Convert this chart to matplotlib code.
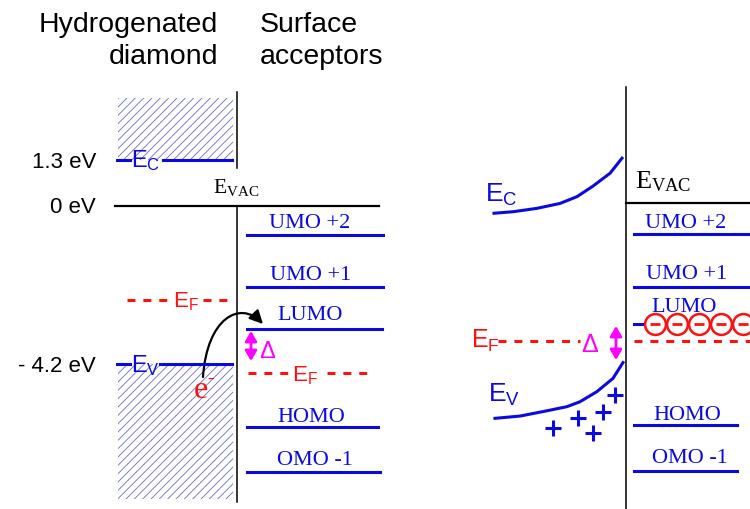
import matplotlib
matplotlib.use('Agg')
import matplotlib.pyplot as plt
from matplotlib.patches import Rectangle, FancyArrowPatch
from matplotlib.path import Path

# energies in eV (0 eV = vacuum level of diamond)
tick_energies = [1.2, 0.0, -4.2]
tick_labels = ['1.3 eV', '0 eV', '- 4.2 eV']

diamond_ec = 1.2
diamond_ef = -2.5
diamond_ev = -4.2
cb_top = 2.86        # top of hatched conduction band
vb_bottom = -7.78    # bottom of hatched valence band

acc_names = ['UMO +2', 'UMO +1', 'LUMO', 'HOMO', 'OMO -1']
acc_left = [-0.78, -2.16, -3.28, -5.87, -7.06]
acc_left_ef = -4.43

acc_right = [-0.75, -2.16, -3.14, -5.82, -7.03]
acc_right_ef = -3.59
vac_right = 0.07

# band bending after charge transfer
ec_x = [494, 513, 537, 560, 577, 593, 610, 622]
ec_bend = [-0.20, -0.16, -0.07, 0.06, 0.24, 0.52, 0.86, 1.26]
ev_x = [495, 520, 547, 567, 580, 597, 613, 623]
ev_bend = [-5.64, -5.58, -5.44, -5.33, -5.20, -4.93, -4.58, -4.16]
holes_x = [553, 578, 593, 603, 615]
holes_e = [-5.90, -5.63, -6.03, -5.47, -5.02]
electrons_x = [655, 677, 699, 721, 743]

BLUE = '#0a0ae0'
RED = '#ff1010'
MAG = '#ff00ff'
SANS = 'Liberation Sans'
SERIF = 'Liberation Serif'

# pixel <-> eV mapping of the drawing
S = 37.7
Y0 = 205.7
def ey(ypix):
    return (Y0 - ypix) / S

plt.rcParams['hatch.linewidth'] = 0.6

fig = plt.figure(figsize=(7.5, 5.09), dpi=100)
ax = fig.add_axes([0, 0, 1, 1])
ax.set_xlim(0, 750)
ax.set_ylim(ey(509), ey(0))
ax.axis('off')

# titles
ax.text(218, ey(32), 'Hydrogenated', ha='right', va='baseline', fontsize=20.5, family=SANS)
ax.text(218, ey(64), 'diamond', ha='right', va='baseline', fontsize=20.5, family=SANS)
ax.text(260, ey(32), 'Surface', ha='left', va='baseline', fontsize=20.5, family=SANS)
ax.text(260, ey(64), 'acceptors', ha='left', va='baseline', fontsize=20.5, family=SANS)

# energy axis labels
for e, lab in zip(tick_energies, tick_labels):
    ax.text(96, e - 7.5 / S, lab, ha='right', va='baseline', fontsize=16, family=SANS)

# ---- left sketch ----
ax.add_patch(Rectangle((118, diamond_ec), 115, cb_top - diamond_ec, fill=False,
                       hatch='////', edgecolor='#6a6ad8', lw=0))
ax.add_patch(Rectangle((118, vb_bottom), 115, diamond_ev - vb_bottom, fill=False,
                       hatch='////', edgecolor='#6a6ad8', lw=0))

ax.plot([237, 237], [ey(92), ey(168)], color='black', lw=1.1)
ax.plot([237, 237], [0, ey(502)], color='black', lw=1.1)
ax.plot([115, 379], [0, 0], color='black', lw=1.6)
ax.text(213, ey(193), r'$\mathregular{E_{VAC}}$', fontsize=15.5, family=SERIF, va='baseline')

ax.plot([117, 130], [diamond_ec] * 2, color=BLUE, lw=2.2)
ax.plot([163, 232], [diamond_ec] * 2, color=BLUE, lw=2.2)
ax.text(131, ey(167), r'$\mathregular{E_C}$', color=BLUE, fontsize=17, family=SANS, va='baseline')
ax.plot([117, 130], [diamond_ev] * 2, color=BLUE, lw=2.2)
ax.plot([160, 232], [diamond_ev] * 2, color=BLUE, lw=2.2)
ax.text(131, ey(372), r'$\mathregular{E_V}$', color=BLUE, fontsize=17, family=SANS, va='baseline')

ax.plot([127, 172], [diamond_ef] * 2, color=RED, lw=2.2, ls=(0, (2.6, 2.6)))
ax.plot([203, 232], [diamond_ef] * 2, color=RED, lw=2.2, ls=(0, (2.6, 2.6)))
ax.text(173, ey(307), r'$\mathregular{E_F}$', color=RED, fontsize=16, family=SANS, va='baseline')

lbl_base_left = [228, 280, 320, 422, 465]
lbl_cx_left = [310, 311, 310, 311, 315]
line_x1_left = [383, 383, 382, 378, 380]
for name, e, yb, cx, x1 in zip(acc_names, acc_left, lbl_base_left, lbl_cx_left, line_x1_left):
    ax.plot([247, x1], [e, e], color=BLUE, lw=2.2)
    ax.text(cx, ey(yb), name, ha='center', va='baseline', color=BLUE, fontsize=16, family=SERIF)

ax.plot([248, 290], [acc_left_ef] * 2, color=RED, lw=2.2, ls=(0, (2.6, 2.6)))
ax.plot([327, 372], [acc_left_ef] * 2, color=RED, lw=2.2, ls=(0, (2.6, 2.6)))
ax.text(292, ey(381), r'$\mathregular{E_F}$', color=RED, fontsize=16, family=SANS, va='baseline')

ax.add_patch(FancyArrowPatch((251, ey(331)), (251, ey(361)),
                             arrowstyle='<|-|>,head_length=6,head_width=3.5',
                             color=MAG, lw=2, shrinkA=0, shrinkB=0))
ax.text(259, ey(358), 'Δ', color=MAG, fontsize=17, family=SANS, va='baseline')

# electron transfer arrow
path = Path([(203, ey(377)), (207, ey(318)), (240, ey(300)), (263, ey(324))],
            [Path.MOVETO, Path.CURVE4, Path.CURVE4, Path.CURVE4])
ax.add_patch(FancyArrowPatch(path=path, arrowstyle='-|>,head_length=8,head_width=4',
                             color='black', lw=1.6))
ax.text(194, ey(398), 'e', color=RED, fontsize=23, family=SERIF, va='baseline')
ax.text(207, ey(384), '-', color=RED, fontsize=14, family=SERIF, va='baseline')

# ---- right sketch ----
ax.plot([626, 626], [ey(87), ey(509)], color='black', lw=1.1)
ax.plot([626, 750], [vac_right] * 2, color='black', lw=1.6)
ax.text(635, ey(188), r'$\mathregular{E_{VAC}}$', fontsize=19, family=SERIF, va='baseline')

ax.plot(ec_x, ec_bend, color=BLUE, lw=2.2)
ax.text(485, ey(202), r'$\mathregular{E_C}$', color=BLUE, fontsize=19, family=SANS, va='baseline')
ax.plot(ev_x, ev_bend, color=BLUE, lw=2.2)
ax.text(488, ey(402), r'$\mathregular{E_V}$', color=BLUE, fontsize=19, family=SANS, va='baseline')
ax.plot(holes_x, holes_e, ls='none', marker='+', ms=12, mew=2.2, color=BLUE)

ax.plot([498, 580], [acc_right_ef] * 2, color=RED, lw=2.2, ls=(0, (2.6, 2.6)))
ax.text(471, ey(348), r'$\mathregular{E_F}$', color=RED, fontsize=18, family=SANS, va='baseline')
ax.text(581, ey(352), 'Δ', color=MAG, fontsize=18, family=SANS, va='baseline')
ax.add_patch(FancyArrowPatch((616, ey(326)), (616, ey(360)),
                             arrowstyle='<|-|>,head_length=6,head_width=3.5',
                             color=MAG, lw=2, shrinkA=0, shrinkB=0))

lbl_base_right = [228, 279, 312, 420, 463]
lbl_cx_right = [686, 687, 684, 687, 690]
line_x1_right = [750, 750, 750, 737, 737]
for name, e, yb, cx, x1 in zip(acc_names, acc_right, lbl_base_right, lbl_cx_right, line_x1_right):
    ax.plot([634, x1], [e, e], color=BLUE, lw=2.2)
    ax.text(cx, ey(yb), name, ha='center', va='baseline', color=BLUE, fontsize=16, family=SERIF)

ax.plot([634, 750], [acc_right_ef] * 2, color=RED, lw=2.2, ls=(0, (2.6, 2.6)))
lumo_r = acc_right[2]
ax.plot(electrons_x, [lumo_r] * len(electrons_x), ls='none', marker='o', ms=15,
        mfc='white', mec=RED, mew=1.8)
ax.plot(electrons_x, [lumo_r] * len(electrons_x), ls='none', marker='_', ms=7,
        mew=2, color=RED)

fig.savefig('out.png', dpi=100)
